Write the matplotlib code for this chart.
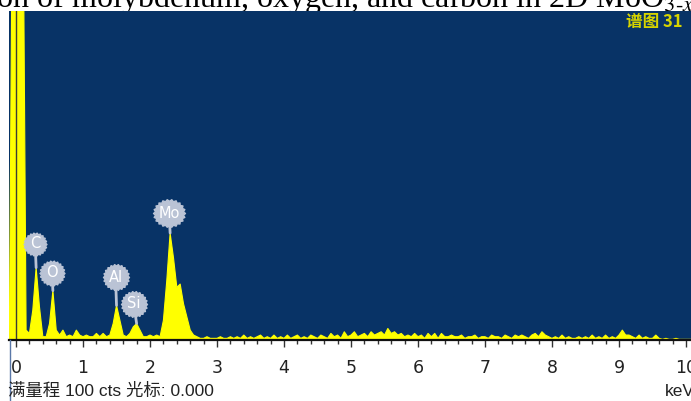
import numpy as np
import matplotlib.pyplot as plt
import matplotlib.transforms as mtransforms
from matplotlib.path import Path
from matplotlib.lines import Line2D

plt.rcParams['mathtext.fontset'] = 'stix'

# EDS spectrum, counts per 0.05 keV channel, first channel at -0.10 keV
start_kev = -0.10
step_kev = 0.05
counts = [
    0, 150,
    400, 400, 150, 3, 2, 9, 22, 10, 1, 1,            # 0.00 - 0.45
    5, 15, 3, 1.5, 3, 1, 1.5, 1, 3, 1.5,             # 0.50 - 0.95
    1, 1.5, 1, 1, 2, 1, 2, 1, 1.5, 5,                # 1.00 - 1.45
    10.5, 6, 1.5, 1, 2, 4, 5, 3, 1, 1,               # 1.50 - 1.95
    1.5, 1, 1.5, 1, 6, 18, 32.5, 25, 16, 17,         # 2.00 - 2.45
    11, 7, 3, 1.5, 1, 0.5, 0.5, 1, 0.5, 0.5,         # 2.50 - 2.95
    0.5, 1, 0.5, 0.5, 1, 0.5, 1, 0.5, 1.5, 0.5,      # 3.00 - 3.45
    1, 0.5, 1, 1.5, 0.5, 1, 0.5, 1.5, 0.5, 1,        # 3.50 - 3.95
    0.5, 1.5, 0.5, 1, 1.5, 0.5, 1, 0.5, 1.5, 1,      # 4.00 - 4.45
    0.5, 1.5, 1, 0.5, 2, 1, 1.5, 0.5, 2.5, 1,        # 4.50 - 4.95
    1.5, 2.5, 1, 1.5, 2, 1, 2.5, 1.5, 2, 2.5,        # 5.00 - 5.45
    1.5, 3.5, 2, 2.5, 1.5, 2, 1, 1.5, 1, 2,          # 5.50 - 5.95
    1, 1.5, 0.5, 2, 1, 2, 0.5, 2, 1, 1,              # 6.00 - 6.45
    1.5, 1, 1, 1.5, 0.5, 1, 1, 1.5, 0.5, 1,          # 6.50 - 6.95
    1, 0.5, 1.5, 1, 1, 0.5, 1.5, 1, 0.5, 1.5,        # 7.00 - 7.45
    1, 1.5, 1, 0.5, 1.5, 2, 1, 2.5, 1.5, 1,          # 7.50 - 7.95
    0.5, 1, 0.5, 1.5, 0.5, 1, 0.5, 0.5, 1, 0.5,      # 8.00 - 8.45
    1, 0.5, 1.5, 0.5, 1, 0.5, 1.5, 0.5, 1, 0.5,      # 8.50 - 8.95
    1.5, 3, 1.5, 1.5, 1, 0.5, 1.5, 0.5, 1, 0.5,      # 9.00 - 9.45
    0.5, 1.5, 0.5, 0.2, 0.5, 0.2, 0.2, 0.5, 0.2, 0.2,  # 9.50 - 9.95
    0.2, 0.2, 0.2,                                   # 10.00 - 10.10
]
energies = start_kev + step_kev * np.arange(len(counts))

peak_labels = ["C", "O", "Al", "Si", "Mo"]
peak_kev = [0.30, 0.55, 1.50, 1.80, 2.30]

full_scale = 100
cursor_kev = 0.000
spectrum_name = "谱图 31"
caption = r"tion of molybdenum, oxygen, and carbon in 2D MoO$_{3\text{-}x}$"

bg_blue = '#083366'
yellow = '#FFFF00'
badge_col = '#BAC3D5'


def badge_path(wide=1.0, teeth=22):
    t = np.linspace(0, 2 * np.pi, 2 * teeth + 1)
    r = np.where(np.arange(2 * teeth + 1) % 2 == 0, 1.0, 0.88)
    verts = np.column_stack([wide * r * np.cos(t), r * np.sin(t)])
    return Path(verts, closed=True)


fig = plt.figure(figsize=(6.91, 4.01), dpi=100)
W, H = 691, 401
ax = fig.add_axes([9 / W, (H - 340) / H, (691 - 9) / W, 329 / H])
ax.set_zorder(1)
ax.set_facecolor(bg_blue)

ax.fill_between(energies, 0, counts, color=yellow, lw=0.8, ec=yellow, zorder=2)
ax.axvline(cursor_kev, color='#3C3C34', lw=1, zorder=3)

ax.set_xlim(-0.105, 10.075)
ax.set_ylim(0, full_scale)

for s in ['top', 'left', 'right']:
    ax.spines[s].set_visible(False)
ax.spines['bottom'].set_color('#111111')
ax.spines['bottom'].set_linewidth(1.6)
ax.spines['bottom'].set_zorder(4)

ax.set_xticks(range(0, 11))
ax.set_xticks(np.arange(0, 10.01, 0.2), minor=True)
ax.set_yticks([])
ax.tick_params(axis='x', which='major', direction='out', length=5, width=1,
               color='#333333', pad=9, labelsize=12.5, labelcolor='#222222')
ax.tick_params(axis='x', which='minor', direction='out', length=3, width=1,
               color='#333333')
for lab in ax.get_xticklabels():
    lab.set_family(['Liberation Sans Narrow', 'DejaVu Sans'])

# element badges
badge_dy_px = [24, 18, 28, 20, 20]
badge_dx_px = [-1, -1, -1, -3, -1]
badge_w_px = [23, 25, 26, 26, 32]
badge_wide = [1.0, 1.0, 1.0, 1.0, 1.15]
for lab, e, dy, dx, w, wd in zip(peak_labels, peak_kev, badge_dy_px,
                                   badge_dx_px, badge_w_px, badge_wide):
    tip = np.interp(e, energies, counts)
    tr = mtransforms.offset_copy(ax.transData, fig=fig, x=dx * 0.72,
                                 y=dy * 0.72, units='points')
    ax.annotate('', xy=(e, tip), xytext=(dx * 0.72, dy * 0.72),
                textcoords='offset points',
                arrowprops=dict(arrowstyle='-', color=badge_col, lw=2,
                                shrinkA=0, shrinkB=0), zorder=5)
    ax.plot([e], [tip], marker=badge_path(wd), ms=w * 0.72, color=badge_col,
            mec=badge_col, transform=tr, zorder=6, clip_on=False)
    ax.text(e, tip, lab, transform=tr, ha='center', va='center',
            color='white', fontsize=10.5, zorder=7,
            family=['Liberation Sans Narrow', 'DejaVu Sans'])

ax.text((682 - 9) / (691 - 9), 1 - 11 / 329, spectrum_name,
        transform=ax.transAxes, ha='right', va='center', color='#D6D400',
        fontsize=12, fontweight='bold',
        family=['Noto Sans CJK SC', 'DejaVu Sans'])

# page caption, cut off by the top of the image
fig.text(694 / W, 1 - 7 / H, caption, ha='right', va='baseline',
         fontsize=23, family='Liberation Serif', color='black', zorder=-1)

fig.text(8 / W, 1 - 391 / H, f"满量程 {full_scale} cts 光标: {cursor_kev:.3f}",
         ha='left', va='center', fontsize=12.5, color='#222222',
         family=['Liberation Sans', 'Noto Sans CJK SC'])
fig.text(665 / W, 1 - 392 / H, "keV", ha='left', va='center', fontsize=12.5,
         color='#222222', family=['Liberation Sans', 'DejaVu Sans'])

fig.add_artist(Line2D([9.5 / W, 9.5 / W], [0, (H - 340) / H],
                      color='#5A78A8', lw=1))

fig.savefig('out.png', dpi=100)
